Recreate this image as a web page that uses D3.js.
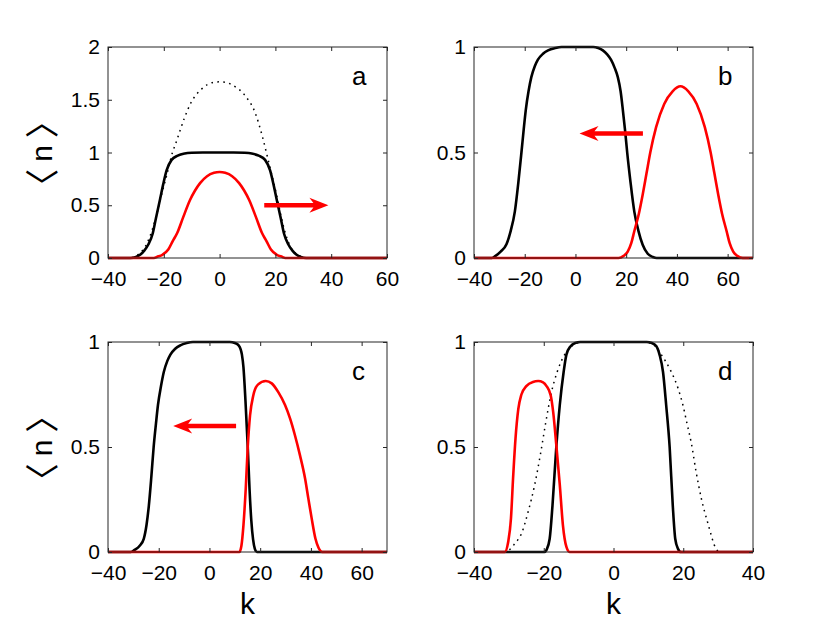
<!DOCTYPE html>
<html>
<head>
<meta charset="utf-8">
<script src="https://cdn.jsdelivr.net/npm/d3@7"></script>
<style>
  body { margin: 0; background: #fff; }
  text { font-family: "Liberation Sans", Arial, sans-serif; }
</style>
</head>
<body>
<div id="fig"></div>
<script>
// ---- data: [k, <n>] ----
const aBlack = [[-40,0],[-32,0],[-30,0.01],[-28.5,0.03],[-27,0.07],[-25.5,0.13],[-24,0.23],[-22.8,0.38],[-21.4,0.55],[-20.2,0.7],[-19,0.83],[-17.2,0.93],[-15,0.97],[-12.5,0.99],[-10,0.997],[-6,1],[5,1],[9,0.997],[11.5,0.99],[14,0.97],[16.3,0.93],[18.1,0.83],[19.3,0.7],[20.5,0.55],[21.9,0.38],[23.1,0.23],[24.6,0.13],[26.1,0.07],[27.6,0.03],[29.1,0.01],[31,0],[60,0]];
const aRed = [[-40,0],[-23.5,0],[-22.5,0.01],[-20.5,0.03],[-18.4,0.08],[-16.8,0.16],[-15.2,0.237],[-13,0.39],[-10.6,0.55],[-8.8,0.64],[-7,0.71],[-4.5,0.775],[-2,0.807],[0,0.815],[2,0.807],[4.5,0.775],[7,0.71],[8.8,0.64],[10.6,0.55],[13,0.39],[15.2,0.237],[16.8,0.16],[18.4,0.08],[20.5,0.03],[22.5,0.01],[23.5,0],[60,0]];
const aDotted = [[-40,0],[-32,0],[-30,0.02],[-28,0.06],[-26,0.14],[-24,0.28],[-22.2,0.45],[-21,0.58],[-20,0.68],[-19,0.78],[-18.1,0.88],[-16.9,1.0],[-15.8,1.08],[-12.7,1.32],[-10.3,1.47],[-6.5,1.6],[-2.2,1.665],[0,1.67],[2.2,1.665],[4.5,1.64],[9.1,1.54],[12.7,1.38],[15.3,1.155],[17.5,0.92],[18.8,0.78],[19.8,0.67],[20.8,0.55],[22,0.4],[23.3,0.26],[25,0.13],[27,0.05],[29,0.015],[31,0],[60,0]];

const bBlack = [[-40,0],[-33,0],[-31.5,0.01],[-29.5,0.03],[-27.2,0.065],[-25.5,0.13],[-23.9,0.22],[-22.5,0.36],[-21.3,0.5],[-20.4,0.61],[-19.6,0.70],[-18.5,0.79],[-17.4,0.857],[-16,0.91],[-14.8,0.94],[-12.8,0.968],[-10.8,0.984],[-8,0.995],[-5.5,1],[7,1],[9,0.995],[10.8,0.984],[12.5,0.965],[14,0.94],[15.5,0.9],[16.7,0.857],[17.8,0.79],[18.7,0.7],[19.6,0.6],[20.4,0.5],[21.7,0.36],[23.2,0.22],[24.8,0.13],[26.5,0.063],[28.5,0.02],[30.5,0.005],[32,0],[70,0]];
const bRed = [[-40,0],[17,0],[19,0.01],[20.6,0.03],[22,0.07],[23.2,0.127],[25,0.21],[26.5,0.3],[28,0.4],[29.5,0.5],[31.8,0.62],[35,0.73],[38.3,0.79],[41.4,0.814],[44.5,0.79],[47.8,0.73],[51,0.62],[53.3,0.5],[54.8,0.4],[56.3,0.3],[57.8,0.21],[59.6,0.127],[60.8,0.07],[62.2,0.03],[63.8,0.01],[66,0],[70,0]];

const cBlack = [[-40,0],[-31,0],[-29.5,0.01],[-27.5,0.03],[-25.9,0.063],[-24.8,0.13],[-23.9,0.22],[-22.9,0.36],[-22,0.5],[-21.1,0.61],[-20.3,0.70],[-19.1,0.79],[-18,0.857],[-16.6,0.91],[-15.4,0.94],[-13.5,0.968],[-11.5,0.984],[-9,0.995],[-6.5,1],[8,1],[10,0.995],[11.5,0.984],[12.3,0.965],[12.8,0.94],[13.4,0.88],[14.2,0.72],[15.1,0.5],[15.8,0.3],[16.5,0.15],[17.2,0.06],[17.9,0.015],[18.7,0],[70,0]];
const cRed = [[-40,0],[11.8,0],[12.6,0.03],[13.4,0.127],[14.3,0.3],[15.1,0.5],[16,0.65],[17.3,0.746],[19.1,0.797],[22.2,0.814],[24.55,0.803],[27.2,0.76],[29.8,0.70],[31.8,0.635],[33.7,0.556],[35.7,0.46],[37.7,0.35],[39,0.254],[40.3,0.16],[41.8,0.063],[43,0.02],[44.5,0],[70,0]];

const dBlack = [[-40,0],[-19.8,0],[-19.2,0.01],[-18.3,0.063],[-17.5,0.22],[-16.4,0.5],[-15.4,0.70],[-14.3,0.857],[-13.5,0.94],[-12.3,0.98],[-11,0.995],[-9.5,1],[9.5,1],[11,0.995],[12.3,0.98],[13.2,0.94],[14.2,0.857],[15.1,0.70],[16.1,0.5],[17,0.22],[17.7,0.063],[18.5,0.015],[19.3,0],[40,0]];
const dRed = [[-40,0],[-31.2,0],[-30.2,0.048],[-29.4,0.16],[-28.8,0.35],[-28.1,0.54],[-27.3,0.68],[-26.4,0.75],[-25,0.79],[-23.1,0.81],[-21.6,0.814],[-20.2,0.808],[-19.2,0.79],[-18,0.745],[-17.3,0.667],[-16.4,0.51],[-15.4,0.32],[-14.5,0.127],[-13.5,0.024],[-12.6,0],[40,0]];
const dDotted = [[-40,0],[-31.5,0],[-30,0.008],[-28.3,0.04],[-26.4,0.087],[-24.5,0.19],[-22.6,0.32],[-20.9,0.47],[-19.5,0.61],[-17.8,0.76],[-16.1,0.86],[-14,0.94],[-12,0.98],[-9,1],[9,1],[12,0.98],[13.7,0.94],[16.5,0.86],[18.5,0.78],[19.9,0.7],[21.1,0.61],[22.3,0.52],[23.7,0.38],[25.2,0.254],[27.1,0.135],[29.4,0.016],[30.5,0],[40,0]];

// arrows: [k tail, k tip, <n>]
const aArrow = [16, 39, 0.5];
const bArrow = [26.6, 1.6, 0.59];
const cArrow = [10.5, -14.3, 0.6];

// axes
const xDomainA = [-40, 60];
const xDomainBC = [-40, 70];
const xDomainD = [-40, 40];
const xTicksA = [-40, -20, 0, 20, 40, 60];
const xTicksD = [-40, -20, 0, 20, 40];
const yDomainA = [0, 2];
const yDomain = [0, 1];
const yTicksA = [0, 0.5, 1, 1.5, 2];
const yTicks = [0, 0.5, 1];
const panelLetters = ["a", "b", "c", "d"];

// ---- drawing ----
const svg = d3.select("#fig").append("svg")
    .attr("width", 830)
    .attr("height", 625);
svg.append("rect").attr("width", 830).attr("height", 625).attr("fill", "white");

const tick = 4;

function drawPanel(left, top, w, h, xDomain, xTicks, yDom, yTks, letter, black, red, dotted, arrow, showY, showK) {
    const g = svg.append("g").attr("transform", "translate(" + left + "," + top + ")");
    const x = d3.scaleLinear().domain(xDomain).range([0, w]);
    const y = d3.scaleLinear().domain(yDom).range([h, 0]);
    const fmt = d => d3.format("")(d).replace("-", "\u2212");

    const line = d3.line().x(d => x(d[0])).y(d => y(d[1])).curve(d3.curveMonotoneX);

    if (dotted) {
        g.append("path").datum(dotted).attr("d", line)
            .attr("fill", "none").attr("stroke", "black")
            .attr("stroke-width", 1.5).attr("stroke-dasharray", "1.6 4.4");
    }
    g.append("path").datum(black).attr("d", line)
        .attr("fill", "none").attr("stroke", "black").attr("stroke-width", 2.6)
        .attr("stroke-linejoin", "round");
    g.append("path").datum(red).attr("d", line)
        .attr("fill", "none").attr("stroke", "#ff0000").attr("stroke-width", 2.6)
        .attr("stroke-linejoin", "round");

    // axes with inward ticks
    g.append("g").attr("transform", "translate(0," + h + ")")
        .call(d3.axisBottom(x).tickValues(xTicks).tickSizeInner(-tick).tickSizeOuter(0).tickPadding(13).tickFormat(fmt));
    g.append("g")
        .call(d3.axisLeft(y).tickValues(yTks).tickSizeInner(-tick).tickSizeOuter(0).tickPadding(8).tickFormat(d3.format("")));
    g.append("g").call(d3.axisTop(x).tickValues(xTicks).tickSizeInner(-tick).tickSizeOuter(0).tickFormat(""));
    g.append("g").attr("transform", "translate(" + w + ",0)")
        .call(d3.axisRight(y).tickValues(yTks).tickSizeInner(-tick).tickSizeOuter(0).tickFormat(""));
    g.selectAll(".domain").remove();
    g.selectAll(".tick line").attr("stroke", "#262626");
    g.selectAll(".tick text").attr("font-size", 21).attr("fill", "black")
        .style("font-family", "'Liberation Sans', Arial, sans-serif");

    g.append("rect").attr("width", w).attr("height", h)
        .attr("fill", "none").attr("stroke", "#262626").attr("stroke-width", 1);

    // arrow
    if (arrow) {
        const x0 = x(arrow[0]), x1 = x(arrow[1]), yy = y(arrow[2]);
        const dir = x1 > x0 ? 1 : -1;
        const headL = 19, headW = 7.5, notch = 4, shaft = 2.2;
        const base = x1 - dir * headL;
        const p = d3.path();
        p.moveTo(x0, yy - shaft);
        p.lineTo(base + dir * notch, yy - shaft);
        p.lineTo(base, yy - headW);
        p.lineTo(x1, yy);
        p.lineTo(base, yy + headW);
        p.lineTo(base + dir * notch, yy + shaft);
        p.lineTo(x0, yy + shaft);
        p.closePath();
        g.append("path").attr("d", p.toString()).attr("fill", "#ff0000");
    }

    g.append("text").attr("x", w - 35).attr("y", 38).text(letter)
        .attr("font-size", 26).attr("fill", "black");

    if (showY) {
        const lab = g.append("text")
            .attr("transform", "translate(-56," + (h / 2 + 1) + ") rotate(-90)")
            .attr("text-anchor", "middle");
        lab.append("tspan").style("font-family", "'Noto Sans CJK SC', sans-serif").attr("font-size", 34).attr("dy", 3).text("\u3008");
        lab.append("tspan").attr("font-size", 30).attr("dx", 7).attr("dy", -3).text("n");
        lab.append("tspan").style("font-family", "'Noto Sans CJK SC', sans-serif").attr("font-size", 34).attr("dx", 7).attr("dy", 3).text("\u3009");
    }
    if (showK) {
        g.append("text").attr("x", w / 2).attr("y", h + 62)
            .attr("text-anchor", "middle").attr("font-size", 30).text("k");
    }
}

drawPanel(108, 47, 279, 211, xDomainA, xTicksA, yDomainA, yTicksA, panelLetters[0], aBlack, aRed, aDotted, aArrow, true, false);
drawPanel(474, 47, 279, 211, xDomainBC, xTicksA, yDomain, yTicks, panelLetters[1], bBlack, bRed, null, bArrow, false, false);
drawPanel(108, 342, 279, 210, xDomainBC, xTicksA, yDomain, yTicks, panelLetters[2], cBlack, cRed, null, cArrow, true, true);
drawPanel(474, 342, 279, 210, xDomainD, xTicksD, yDomain, yTicks, panelLetters[3], dBlack, dRed, dDotted, null, false, true);
</script>
</body>
</html>
